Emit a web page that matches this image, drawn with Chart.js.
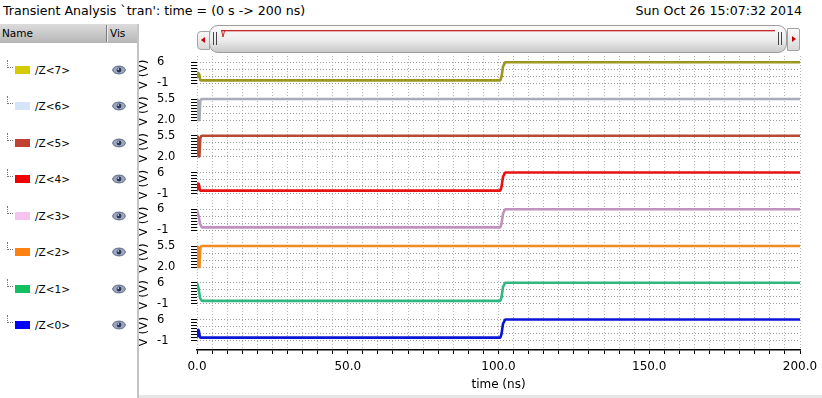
<!DOCTYPE html>
<html><head><meta charset="utf-8">
<script src="https://cdn.jsdelivr.net/npm/chart.js@4.4.0/dist/chart.umd.min.js"></script>
<style>
html,body{margin:0;padding:0;background:#fff;width:822px;height:398px;overflow:hidden;font-family:"DejaVu Sans",sans-serif;color:#000;position:relative;}
.abs{position:absolute;}
#title{left:3px;top:3px;font-size:12.6px;line-height:15px;white-space:nowrap;}
#date{right:20px;top:3px;font-size:12.6px;line-height:15px;white-space:nowrap;}
#panel{left:0;top:24px;width:137px;height:374px;background:#fff;border-right:2px solid #c4c4c4;}
#hdr{left:0;top:24px;width:137px;height:19px;background:linear-gradient(#dcdcdc,#b6b6b6);font-size:10.5px;line-height:19px;}
#hdr .n{position:absolute;left:2px;top:0;}
#hdr .v{position:absolute;left:110px;top:0;}
#hdr .sep{position:absolute;left:106px;top:1px;width:1px;height:17px;background:#7a7a7a;border-right:1px solid #eee;}
.row{position:absolute;left:0;width:137px;height:20px;font-size:10.5px;}
.tree{position:absolute;left:7px;width:5px;height:7px;border-left:1px dotted #777;border-bottom:1px dotted #777;}
.sw{position:absolute;left:15px;width:15px;height:8px;}
.nm{position:absolute;left:35px;line-height:14px;white-space:nowrap;}
.eye{position:absolute;left:112px;}
#bottom{left:139px;top:395px;width:683px;height:3px;background:#e6e6e6;}
#thumb{left:209px;top:25px;width:576px;height:26px;border:1px solid #9c9c9c;border-radius:9px;background:linear-gradient(#fbfbfb,#ececec 55%,#c9c9c9);}
#lbtn{left:197px;top:31px;width:11px;height:17px;border:1px solid #a4a4a4;border-radius:4px 0 0 4px;background:linear-gradient(#fafafa,#d8d8d8);}
#rbtn{left:787px;top:28px;width:11px;height:21px;border:1px solid #a4a4a4;border-radius:0 2px 2px 0;background:linear-gradient(#fafafa,#d8d8d8);}
.tri{position:absolute;width:0;height:0;border-top:3px solid transparent;border-bottom:3px solid transparent;}
#redline{left:221px;top:30px;width:554px;height:1px;background:#c42a2a;box-shadow:0 1px 0 #e8b0b0;}
.grip{width:1px;height:13px;background:#444;}
#c{left:139px;top:50px;}
</style></head>
<body>
<div id="title" class="abs">Transient Analysis `tran': time = (0 s -&gt; 200 ns)</div>
<div id="date" class="abs">Sun Oct 26 15:07:32 2014</div>
<div id="panel" class="abs"></div>
<div id="hdr" class="abs"><span class="n">Name</span><span class="sep"></span><span class="v">Vis</span></div>
<div id="thumb" class="abs"></div>
<div id="lbtn" class="abs"><div class="tri" style="left:3px;top:5px;border-right:4px solid #c00000;"></div></div>
<div id="rbtn" class="abs"><div class="tri" style="left:4px;top:7px;border-left:4px solid #c00000;"></div></div>
<div id="redline" class="abs"></div>
<svg class="abs" style="left:221px;top:29px" width="8" height="10"><polyline points="0.5,1 2,8 3.5,2 5,1.5" fill="none" stroke="#c42a2a" stroke-width="1"/></svg>
<div class="abs grip" style="left:213px;top:32px"></div>
<div class="abs grip" style="left:216px;top:32px"></div>
<div class="abs grip" style="left:778px;top:32px"></div>
<div class="abs grip" style="left:781px;top:32px"></div>
<div id="bottom" class="abs"></div>
<canvas id="c" class="abs" width="683" height="346"></canvas>
<script>
// ---- data ----
const sigNames   = ['/Z<7>', '/Z<6>', '/Z<5>', '/Z<4>', '/Z<3>', '/Z<2>', '/Z<1>', '/Z<0>'];
const swatchCols = ['#d6ca00', '#d6e4f8', '#c24232', '#f00000', '#f8c2f0', '#ff8210', '#12c062', '#0000ff'];
const lineCols   = ['#9c981e', '#a8acb8', '#b84a34', '#e81212', '#c092c0', '#f08a22', '#30b880', '#0a16d6'];

// time (ns) / voltage (V) per signal
const t7 = [0, 0.2, 0.7, 1.1, 100.6, 101.0, 101.5, 102.2, 200];
const v7 = [1.0, 2.5, 2.2, 0.0, 0.0, 1.2, 4.6, 6.0, 6.0];
const t6 = [0, 0.3, 0.5, 0.8, 1.1, 1.5, 200];
const v6 = [5.5, 4.9, 2.0, 2.0, 5.2, 5.5, 5.5];
const t5 = [0, 0.3, 0.5, 0.8, 1.1, 1.5, 200];
const v5 = [5.5, 4.8, 2.0, 2.1, 5.1, 5.5, 5.5];
const t4 = [0, 0.2, 0.6, 1.0, 100.6, 101.0, 101.5, 102.2, 200];
const v4 = [0.3, 2.4, 2.2, 0.0, 0.0, 1.2, 4.6, 6.0, 6.0];
const t3 = [0, 0.5, 1.0, 1.6, 100.6, 101.0, 101.5, 102.2, 200];
const v3 = [5.8, 4.0, 1.2, 0.0, 0.0, 1.2, 4.6, 6.0, 6.0];
const t2 = [0, 0.3, 0.5, 0.8, 1.1, 1.5, 200];
const v2 = [5.5, 4.9, 2.0, 2.0, 5.2, 5.5, 5.5];
const t1 = [0, 0.5, 1.0, 1.6, 100.6, 101.0, 101.5, 102.2, 200];
const v1 = [6.0, 4.2, 1.0, 0.0, 0.0, 1.2, 4.6, 6.0, 6.0];
const t0 = [0, 0.2, 0.6, 1.0, 100.6, 101.0, 101.5, 102.2, 200];
const v0 = [0.4, 2.7, 2.4, 0.0, 0.0, 1.2, 4.6, 6.0, 6.0];
const times  = [t7, t6, t5, t4, t3, t2, t1, t0];
const values = [v7, v6, v5, v4, v3, v2, v1, v0];

// y-axis ranges and labels per strip
const axisLo      = [-1, 2.0, 2.0, -1, -1, 2.0, -1, -1];
const axisHi      = [6, 5.5, 5.5, 6, 6, 5.5, 6, 6];
const axisLoLabel = ['-1', '2.0', '2.0', '-1', '-1', '2.0', '-1', '-1'];
const axisHiLabel = ['6', '5.5', '5.5', '6', '6', '5.5', '6', '6'];
const axisTitle   = 'V (V)';

// x axis
const xMin = 0, xMax = 200, xMinorStep = 5;
const xLabelValues = [0, 50, 100, 150, 200];
const xTitle = 'time (ns)';

// ---- left panel (HTML) ----
const eyeSvg = '<svg width="14" height="10" viewBox="0 0 14 10"><ellipse cx="7" cy="5" rx="6.3" ry="3.9" fill="#9ba7c2" stroke="#5a6682" stroke-width="1"/><circle cx="7" cy="5" r="2.4" fill="#2e3752"/><circle cx="6.2" cy="4.1" r="0.8" fill="#fff"/></svg>';
sigNames.forEach((nm, i) => {
  const cy = 69.5 + 36.5 * i;
  const r = document.createElement('div');
  r.className = 'row';
  r.style.top = (cy - 10) + 'px';
  r.innerHTML = '<div class="tree" style="top:0px"></div>' +
    '<div class="sw" style="top:6px;background:' + swatchCols[i] + '"></div>' +
    '<div class="nm" style="top:3px"></div>' +
    '<div class="eye" style="top:5px">' + eyeSvg + '</div>';
  r.querySelector('.nm').textContent = nm;
  document.body.appendChild(r);
});

// ---- chart ----
Chart.defaults.font.family = '"DejaVu Sans", sans-serif';
Chart.defaults.color = '#000';

const datasets = sigNames.map((nm, i) => ({
  label: nm,
  data: times[i].map((t, j) => ({ x: t, y: values[i][j] })),
  borderColor: lineCols[i],
  backgroundColor: lineCols[i],
  borderWidth: 2.6,
  borderJoinStyle: 'bevel',
  pointRadius: 0,
  tension: 0,
  xAxisID: 'x',
  yAxisID: 'y' + i
}));

const scales = {
  x: {
    type: 'linear', position: 'bottom', min: xMin, max: xMax,
    afterBuildTicks: s => {
      const arr = [];
      for (let v = xMin; v <= xMax; v += xMinorStep) arr.push({ value: v });
      s.ticks = arr;
    },
    afterFit: s => { s.height = 46; s.paddingLeft = 0; s.paddingRight = 0; },
    ticks: {
      autoSkip: false, maxRotation: 0, padding: 6,
      font: { size: 12 },
      callback: v => xLabelValues.includes(v) ? v.toFixed(1) : ''
    },
    grid: { color: '#b4b4b4', tickColor: '#000', tickLength: 4, lineWidth: 1 },
    border: { display: true, color: '#000', width: 1.5, dash: [1, 2] },
    title: { display: true, text: xTitle, font: { size: 12 }, padding: { top: 0, bottom: 4 } }
  }
};

sigNames.forEach((nm, i) => {
  const lo = axisLo[i], hi = axisHi[i], r = hi - lo;
  const tickList = [];
  for (let k = 0; k <= 7; k++) tickList.push({ value: lo + r * k / 7, ladder: true, grid: (k === 0 || k === 7), lbl: k === 0 ? axisLoLabel[i] : (k === 7 ? axisHiLabel[i] : '') });
  tickList.push({ value: lo + r / 3, ladder: false, grid: true, lbl: '' });
  tickList.push({ value: lo + 2 * r / 3, ladder: false, grid: true, lbl: '' });
  tickList.sort((a, b) => a.value - b.value);
  scales['y' + i] = {
    type: 'linear', position: 'left', stack: 'strips', stackWeight: 1, weight: 7 - i,
    min: lo - 0.448 * r, max: hi + 0.30 * r,
    afterBuildTicks: s => { s.ticks = tickList.map(t => Object.assign({}, t)); },
    afterFit: s => { s.width = 40; s.paddingTop = 0; s.paddingBottom = 0; },
    ticks: {
      autoSkip: false, crossAlign: 'far', font: { size: 11.5 },
      callback: (v, idx, ticks) => ticks[idx].lbl
    },
    grid: {
      color: c => (c.tick && c.tick.grid) ? '#9c9c9c' : 'rgba(0,0,0,0)',
      tickColor: c => (c.tick && c.tick.ladder) ? '#000' : 'rgba(0,0,0,0)',
      tickLength: 6, lineWidth: 1, drawTicks: true
    },
    border: { display: false, dash: [1, 2] },
    title: { display: true, text: axisTitle, font: { size: 12 }, padding: { top: -20, bottom: 0 } }
  };
});

new Chart(document.getElementById('c'), {
  type: 'line',
  data: { datasets },
  options: {
    responsive: false, animation: false, devicePixelRatio: 1,
    layout: { padding: { left: 18, right: 22, top: 6, bottom: 0 } },
    plugins: { legend: { display: false }, tooltip: { enabled: false }, title: { display: false } },
    scales
  }
});
</script>
</body></html>
